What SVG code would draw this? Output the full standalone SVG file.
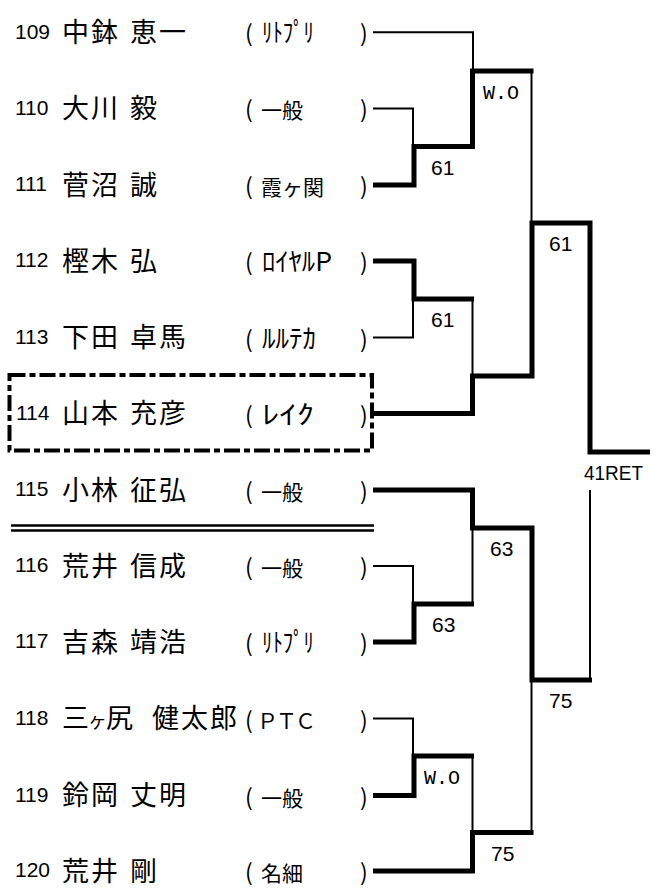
<svg xmlns="http://www.w3.org/2000/svg" width="665" height="888" viewBox="0 0 665 888">
<style>
.num{font-family:"Liberation Sans",Arial,sans-serif;font-size:21px;fill:#000}
.nm{font-family:"Noto Sans CJK JP","Noto Sans CJK SC",sans-serif;font-size:27px;letter-spacing:2px;fill:#000}
.af{font-family:"Noto Sans CJK JP","Noto Sans CJK SC",sans-serif;font-size:21px;fill:#000}
.hk{font-family:"Noto Sans CJK JP","Noto Sans CJK SC",sans-serif;font-size:26px;fill:#000}
.pr{font-family:"Noto Sans CJK JP",sans-serif;font-size:23px;fill:#000}
.sc{font-family:"Liberation Sans",Arial,sans-serif;font-size:21px;fill:#000}
.wo{font-family:"Liberation Mono","Courier New",monospace;font-size:20px;fill:#000}
.thin{stroke:#000;stroke-width:2;fill:none}
.thick{stroke:#000;stroke-width:5;fill:none;stroke-linejoin:miter}
</style>
<rect width="665" height="888" fill="#fff"/>

<g id="p109">
<text class="num" x="15" y="38.5">109</text>
<text class="nm" x="62" y="42">中鉢</text><text class="nm" x="130" y="42">恵一</text>
<text class="pr" x="245" y="42">(</text><text class="hk" x="262" y="42" textLength="52" lengthAdjust="spacingAndGlyphs">ﾘﾄﾌﾟﾘ</text><text class="pr" x="360" y="42">)</text>
</g>
<g id="p110">
<text class="num" x="15" y="114.5">110</text>
<text class="nm" x="62" y="118">大川</text><text class="nm" x="130" y="118">毅</text>
<text class="pr" x="245" y="118">(</text><text class="af" x="261" y="118">一般</text><text class="pr" x="360" y="118">)</text>
</g>
<g id="p111">
<text class="num" x="15" y="191">111</text>
<text class="nm" x="62" y="194.5">菅沼</text><text class="nm" x="130" y="194.5">誠</text>
<text class="pr" x="245" y="195">(</text><text class="af" x="261" y="195">霞ヶ関</text><text class="pr" x="360" y="195">)</text>
</g>
<g id="p112">
<text class="num" x="15" y="267">112</text>
<text class="nm" x="62" y="270.5">樫木</text><text class="nm" x="130" y="270.5">弘</text>
<text class="pr" x="245" y="271">(</text><text class="hk" x="262" y="271" textLength="70" lengthAdjust="spacingAndGlyphs">ﾛｲﾔﾙP</text><text class="pr" x="360" y="271">)</text>
</g>
<g id="p113">
<text class="num" x="15" y="343.5">113</text>
<text class="nm" x="62" y="347">下田</text><text class="nm" x="130" y="347">卓馬</text>
<text class="pr" x="245" y="347.5">(</text><text class="hk" x="262" y="347.5" textLength="54" lengthAdjust="spacingAndGlyphs">ﾙﾙﾃｶ</text><text class="pr" x="360" y="347.5">)</text>
</g>
<g id="p114">
<rect x="9.5" y="375" width="362.5" height="75.5" fill="none" stroke="#000" stroke-width="4" stroke-dasharray="16 4 6 4"/>
<text class="num" x="16" y="419.5">114</text>
<text class="nm" x="62" y="423">山本</text><text class="nm" x="130" y="423">充彦</text>
<text class="pr" x="245" y="423.5">(</text><text class="hk" x="262" y="423.5" textLength="52" lengthAdjust="spacingAndGlyphs">ﾚｲｸ</text><text class="pr" x="360" y="423.5">)</text>
</g>
<g id="p115">
<text class="num" x="15" y="496">115</text>
<text class="nm" x="62" y="499.5">小林</text><text class="nm" x="130" y="499.5">征弘</text>
<text class="pr" x="245" y="500">(</text><text class="af" x="261" y="500">一般</text><text class="pr" x="360" y="500">)</text>
</g>
<g id="separator">
<line x1="11" y1="525.5" x2="374" y2="525.5" stroke="#000" stroke-width="2.3"/>
<line x1="11" y1="530.5" x2="374" y2="530.5" stroke="#000" stroke-width="2.3"/>
</g>
<g id="p116">
<text class="num" x="15" y="572">116</text>
<text class="nm" x="62" y="575.5">荒井</text><text class="nm" x="130" y="575.5">信成</text>
<text class="pr" x="245" y="576">(</text><text class="af" x="261" y="576">一般</text><text class="pr" x="360" y="576">)</text>
</g>
<g id="p117">
<text class="num" x="15" y="648">117</text>
<text class="nm" x="62" y="651.5">吉森</text><text class="nm" x="130" y="651.5">靖浩</text>
<text class="pr" x="245" y="652">(</text><text class="hk" x="262" y="652" textLength="52" lengthAdjust="spacingAndGlyphs">ﾘﾄﾌﾟﾘ</text><text class="pr" x="360" y="652">)</text>
</g>
<g id="p118">
<text class="num" x="15" y="724.5">118</text>
<text class="nm" x="62" y="728" style="letter-spacing:-1px">三<tspan style="font-size:19px">ヶ</tspan>尻</text><text class="nm" x="152" y="728">健太郎</text>
<text class="pr" x="245" y="728.5">(</text><text class="af" x="257" y="728.5" style="letter-spacing:-2px">ＰＴＣ</text><text class="pr" x="360" y="728.5">)</text>
</g>
<g id="p119">
<text class="num" x="15" y="801.5">119</text>
<text class="nm" x="62" y="805">鈴岡</text><text class="nm" x="130" y="805">丈明</text>
<text class="pr" x="245" y="805.5">(</text><text class="af" x="261" y="805.5">一般</text><text class="pr" x="360" y="805.5">)</text>
</g>
<g id="p120">
<text class="num" x="15" y="877">120</text>
<text class="nm" x="62" y="880.5">荒井</text><text class="nm" x="130" y="880.5">剛</text>
<text class="pr" x="245" y="881">(</text><text class="af" x="261" y="881">名細</text><text class="pr" x="360" y="881">)</text>
</g>

<g id="connectors">
<path class="thin" d="M373,32.3 H473 V71"/>
<path class="thin" d="M373,108.5 H413 V146"/>
<path class="thin" d="M373,337.5 H413 V299"/>
<path class="thin" d="M472.5,299 V376"/>
<path class="thin" d="M531.5,71 V223"/>
<path class="thin" d="M373,566 H413 V604"/>
<path class="thin" d="M472.5,604 V528"/>
<path class="thin" d="M373,718.5 H413 V756"/>
<path class="thin" d="M472.5,756 V832.5"/>
<path class="thin" d="M531.5,832.5 V680"/>
<path class="thin" d="M590,680 V490"/>
<path class="thick" d="M373,185 H414 V146.5 H472.5 V71 H533.5"/>
<path class="thick" d="M373,261 H414 V299 H474"/>
<path class="thick" d="M373,413.5 H472.5 V376 H532 V223 H590 V452 H650"/>
<path class="thick" d="M373,490 H472.5 V528 H532 V680 H592"/>
<path class="thick" d="M373,642 H414 V604 H474"/>
<path class="thick" d="M373,795.5 H414 V756 H474"/>
<path class="thick" d="M373,871 H472.5 V832.5 H533.5"/>
</g>

<g id="scores">
<text class="wo" x="483" y="99.3">W.O</text>
<text class="sc" x="431" y="175">61</text>
<text class="sc" x="549" y="250.5">61</text>
<text class="sc" x="431" y="326.5">61</text>
<text class="sc" x="584" y="480" textLength="59" lengthAdjust="spacingAndGlyphs">41RET</text>
<text class="sc" x="490" y="556">63</text>
<text class="sc" x="432" y="632">63</text>
<text class="sc" x="549" y="707.5">75</text>
<text class="wo" x="424" y="784">W.O</text>
<text class="sc" x="491" y="861">75</text>
</g>
</svg>
